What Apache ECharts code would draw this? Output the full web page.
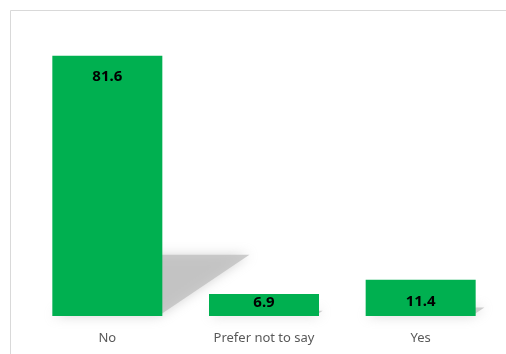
<!DOCTYPE html>
<html>
<head>
<meta charset="utf-8">
<script src="https://cdn.jsdelivr.net/npm/echarts@6/dist/echarts.min.js"></script>
<style>
  html, body { margin: 0; padding: 0; background: #ffffff; }
  #chart { width: 506px; height: 354px; }
</style>
</head>
<body>
<div id="chart"></div>
<script>
// Survey answers and their shares (%)
const categories = ['No', 'Prefer not to say', 'Yes'];
const values = [81.6, 6.9, 11.4];

// Gap between the top of each bar and its value label
const labelDistances = [13, 1, 15];

const chart = echarts.init(document.getElementById('chart'));

// Soft cast shadow behind each bar: a sheared copy of the bar, scaled with its height
function renderShadow(params, api) {
  const idx = api.value(0);
  const val = api.value(1);
  const base = api.coord([idx, 0]);
  const top = api.coord([idx, val]);
  const h = base[1] - top[1];
  const half = 55;
  const dx = h * 0.35;
  const dy = h * 0.235;
  const x0 = base[0] - half, x1 = base[0] + half, y = base[1];
  return {
    type: 'polygon',
    shape: {
      points: [[x0, y], [x1 - 4, y], [x1 + dx - 4, y - dy], [x0 + dx, y - dy]]
    },
    style: {
      fill: 'rgba(190,190,190,0.75)',
      shadowBlur: 12,
      shadowColor: 'rgba(190,190,190,0.9)'
    }
  };
}

chart.setOption({
  animation: false,
  backgroundColor: '#ffffff',
  graphic: [{
    type: 'rect',
    shape: { x: 10.5, y: 10.5, width: 600, height: 400 },
    style: { fill: 'none', stroke: '#d9d9d9', lineWidth: 1 },
    z: 0
  }],
  grid: { left: 29, right: 7, top: 29, bottom: 38 },
  xAxis: {
    type: 'category',
    data: categories,
    axisLine: { show: false },
    axisTick: { show: false },
    axisLabel: {
      color: '#595959',
      fontFamily: 'Noto Sans',
      fontSize: 13,
      margin: 16
    }
  },
  yAxis: {
    type: 'value',
    min: 0,
    max: 90,
    show: false,
    splitLine: { show: false }
  },
  series: [
    {
      type: 'custom',
      renderItem: renderShadow,
      data: values.map((v, i) => [i, v]),
      encode: { x: 0, y: 1 },
      silent: true,
      z: 1
    },
    {
      type: 'bar',
      barWidth: 110,
      z: 2,
      itemStyle: { color: '#00b050' },
      data: values.map((v, i) => ({
        value: v,
        label: {
          show: true,
          position: 'insideTop',
          distance: labelDistances[i],
          color: '#000000',
          fontFamily: 'Noto Sans',
          fontWeight: 'bold',
          fontSize: 15
        }
      }))
    }
  ]
});
</script>
</body>
</html>
